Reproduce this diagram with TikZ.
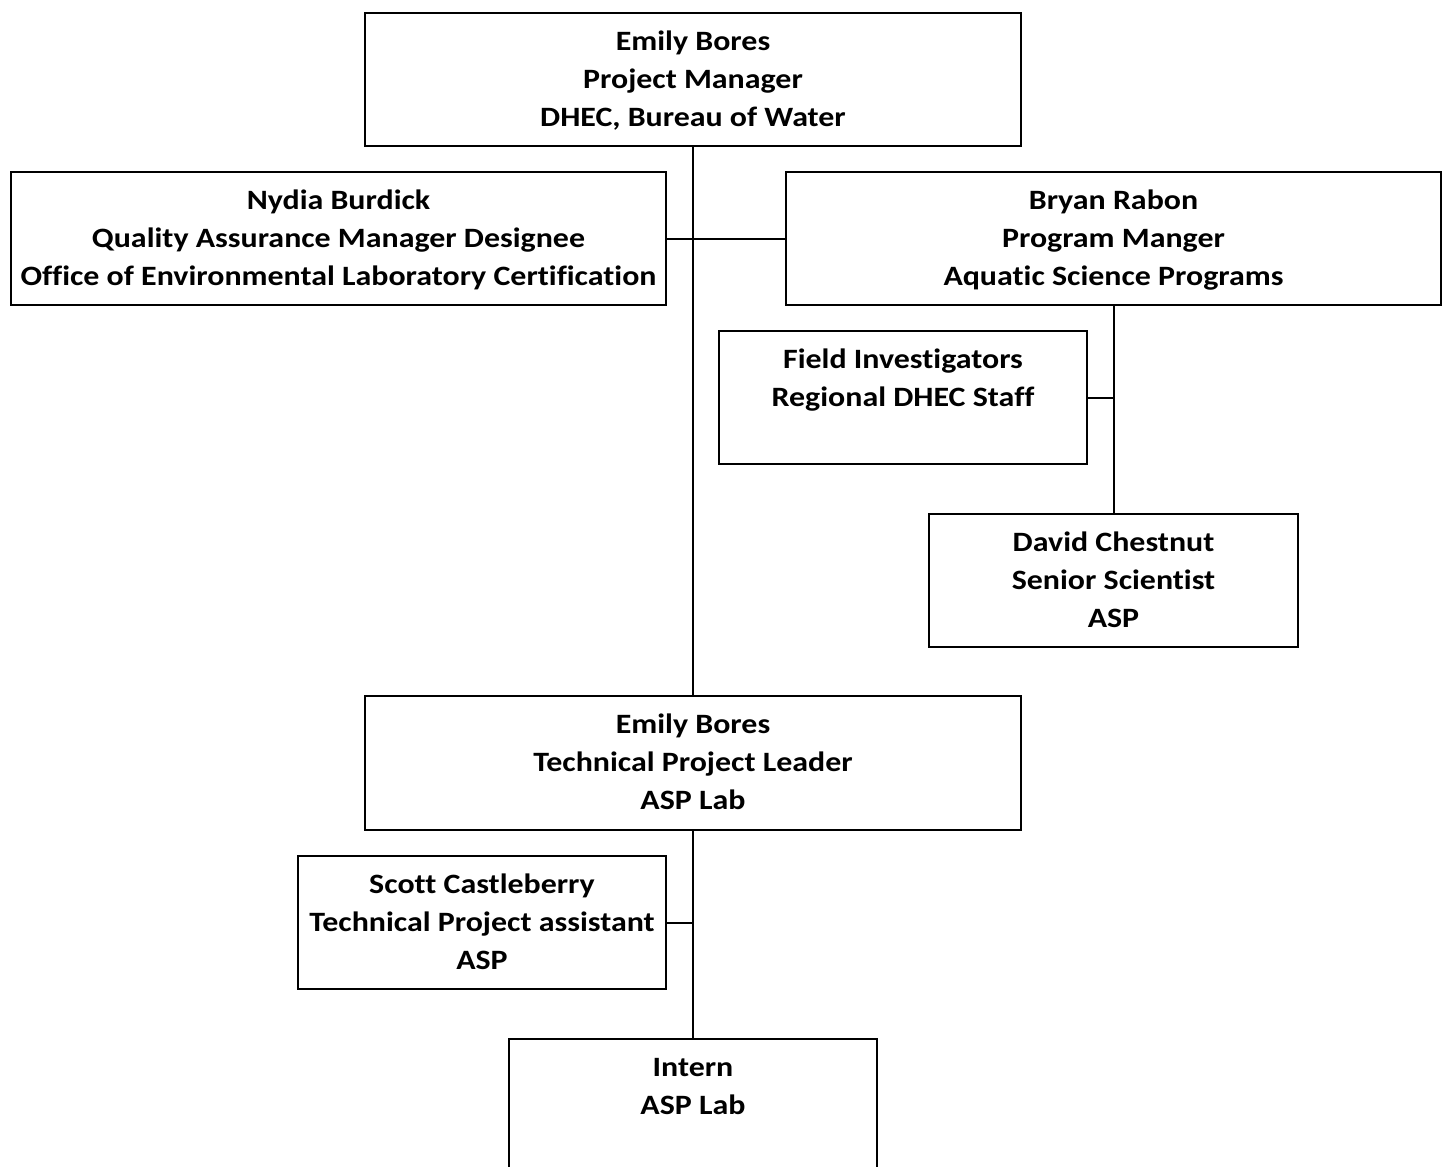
\documentclass[tikz,border=0pt]{standalone}
\usepackage{fontspec}
\setmainfont{Carlito}[FakeStretch=1.14,Ligatures=NoCommon]
\begin{document}
\begin{tikzpicture}[x=1pt,y=-1pt,
  box/.style={draw, line width=2pt, rectangle, inner sep=0pt, anchor=north west},
  lbl/.style={anchor=north, inner sep=0pt, align=center, font=\fontsize{28}{38}\selectfont\bfseries},
  conn/.style={line width=2pt}]
\useasboundingbox[fill=white] (0,0) rectangle (1449,1167);
% boxes
\node[box, minimum width=656pt, minimum height=133pt] (pm) at (364,12) {};
\node[box, minimum width=655pt, minimum height=133pt] (qa) at (10,171) {};
\node[box, minimum width=655pt, minimum height=133pt] (br) at (785,171) {};
\node[box, minimum width=368pt, minimum height=133pt] (fi) at (718,330) {};
\node[box, minimum width=369pt, minimum height=133pt] (dc) at (928,513) {};
\node[box, minimum width=656pt, minimum height=134pt] (el) at (364,695) {};
\node[box, minimum width=368pt, minimum height=133pt] (sc) at (297,855) {};
\node[box, minimum width=368pt, minimum height=150pt] (intern) at (508,1038) {};
% labels
\node[lbl] (pmT) at ([yshift=-11.4pt]pm.north) {\strut Emily Bores\\Project Manager\\DHEC, Bureau of Water};
\node[lbl] (qaT) at ([yshift=-11.4pt]qa.north) {\strut Nydia Burdick\\Quality Assurance Manager Designee\\Office of Environmental Laboratory Certification};
\node[lbl] (brT) at ([yshift=-11.4pt]br.north) {\strut Bryan Rabon\\Program Manger\\Aquatic Science Programs};
\node[lbl] (fiT) at ([yshift=-11.4pt]fi.north) {\strut Field Investigators\\Regional DHEC Staff};
\node[lbl] (dcT) at ([yshift=-11.4pt]dc.north) {\strut David Chestnut\\Senior Scientist\\ASP};
\node[lbl] (elT) at ([yshift=-11.4pt]el.north) {\strut Emily Bores\\Technical Project Leader\\ASP Lab};
\node[lbl] (scT) at ([yshift=-11.4pt]sc.north) {\strut Scott Castleberry\\Technical Project assistant\\ASP};
\node[lbl] (inT) at ([yshift=-11.4pt]intern.north) {\strut Intern\\ASP Lab};
% connectors
\draw[conn] (pm.south) -- (el.north);
\draw[conn] (qa.east) -- (br.west);
\draw[conn] (br.south) -- (dc.north);
\draw[conn] (fi.east) -- (fi.east -| br.south);
\draw[conn] (el.south) -- (intern.north);
\draw[conn] (sc.east) -- (sc.east -| el.south);
\end{tikzpicture}
\end{document}
